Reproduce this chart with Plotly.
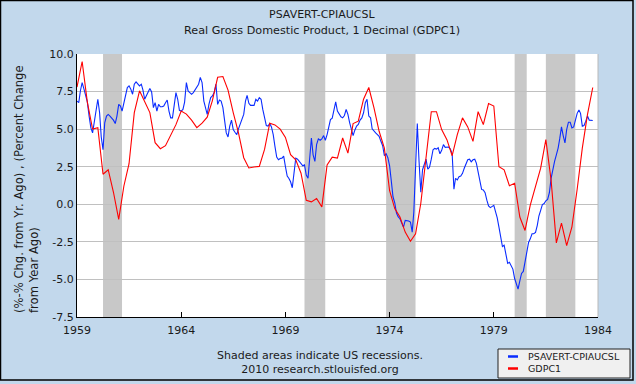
import plotly.graph_objects as go
import pandas as pd

# ---------------- data ----------------
# PSAVERT-CPIAUCSL, monthly, Jan 1959 .. Oct 1983
psavert_cpi = [
    6.87, 6.76, 7.54, 8.1, 7.7, 7.21, 6.81, 5.87, 5.08, 4.75, 5.53, 6.54,
    6.99, 6.09, 4.48, 3.63, 5.42, 5.87, 5.98, 5.87, 5.75, 5.6, 5.37, 5.87,
    6.65, 6.54, 6.2, 6.81, 7.21, 7.77, 7.88, 7.66, 7.32, 7.99, 8.15, 8.04,
    7.88, 7.99, 7.61, 6.99, 7.21, 7.48, 7.7, 7.48, 6.43, 6.76, 6.2, 6.65,
    6.49, 6.49, 6.54, 6.76, 6.94, 6.2, 5.75, 5.75, 6.76, 7.43, 6.99, 6.25,
    6.2, 6.31, 6.8, 8.1, 7.54, 7.43, 7.32, 7.43, 7.61, 7.77, 7.99, 8.44,
    8.1, 6.87, 6.43, 5.98, 6.65, 7.1, 7.21, 7.43, 7.99, 6.65, 6.94, 6.87,
    6.43, 5.42, 4.75, 4.48, 5.2, 5.6, 4.97, 4.79, 4.64, 5.02, 5.31, 5.64,
    5.98, 6.87, 7.25, 6.72, 6.58, 6.58, 6.58, 6.99, 6.87, 7.1, 6.99, 6.31,
    5.87, 5.24, 5.2, 5.37, 5.15, 4.64, 3.85, 3.14, 2.96, 3.05, 3.07, 3.2,
    2.5, 1.88, 1.73, 1.5, 1.1, 2.24, 3.07, 3.0, 2.85, 2.69, 2.56, 2.62,
    1.95, 1.73, 3.18, 4.41, 3.29, 2.85, 3.97, 4.35, 4.26, 4.35, 4.57, 4.26,
    4.64, 5.15, 5.64, 5.73, 6.2, 6.81, 6.2, 5.98, 5.82, 5.75, 5.91, 6.31,
    5.98, 5.42, 4.97, 4.57, 4.93, 5.2, 5.31, 5.6, 5.75, 6.09, 6.76, 6.99,
    5.87, 5.75, 5.02, 4.86, 4.75, 4.64, 4.52, 4.19, 3.9, 3.23, 3.36, 3.1,
    2.55, 1.5, 0.5, 0.1, -0.58, -0.84, -0.96, -1.25, -1.52, -1.07, -1.07, -1.11,
    -1.18, -1.85, -0.51, 2.29, 5.38, 2.85, 0.8, 2.3, 2.74, 3.0, 2.33, 2.47,
    3.0, 3.63, 3.72, 3.67, 3.76, 3.36, 3.59, 3.97, 3.79, 3.81, 3.81, 3.67,
    3.36, 1.0, 1.73, 1.62, 1.84, 1.88, 2.06, 2.4, 2.74, 2.96, 3.0, 2.82,
    2.96, 3.0, 2.74, 2.18, 1.62, 0.99, 0.95, 0.77, 0.27, -0.11, -0.22, -0.17,
    -0.07, -0.51, -0.89, -1.52, -2.19, -2.81, -2.72, -3.42, -3.93, -3.86, -4.07, -4.31,
    -4.94, -5.32, -5.65, -5.1, -4.6, -4.47, -3.8, -3.08, -2.54, -2.3, -1.96, -1.96,
    -1.87, -1.4, -0.78, -0.4, -0.02, 0.05, 0.23, 0.32, 0.77, 1.73, 2.4, 2.85,
    3.29, 3.74, 4.35, 5.15, 4.57, 4.08, 4.97, 5.46, 5.46, 5.08, 5.15, 5.6,
    6.05, 6.27, 6.05, 5.2, 5.24, 5.53, 5.87, 5.6, 5.58, 5.58,
]

# GDPC1, percent change from year ago, quarterly, 1959Q1 .. 1983Q4
gdpc1 = [
    7.8, 9.5, 6.8, 5.0,
    5.1, 2.0, 2.3, 0.8,
    -1.0, 1.2, 2.7, 6.1,
    7.55, 6.8, 6.1, 4.1,
    3.7, 3.9, 4.55, 5.3,
    6.2, 6.0, 5.6, 5.1,
    5.4, 5.8, 6.9, 8.45,
    8.5, 7.6, 6.1, 4.75,
    3.1, 2.42, 2.48, 2.52,
    3.65, 5.4, 5.28, 5.0,
    4.45, 3.3, 2.96, 2.07,
    0.27, 0.16, 0.39, -0.17,
    2.62, 3.14, 3.07, 4.41,
    3.4, 5.37, 5.53, 6.99,
    7.77, 6.43, 4.86, 3.74,
    0.9, -0.29, -0.85, -1.85,
    -2.46, -1.96, 0.05, 3.2,
    6.16, 6.16, 4.97, 4.3,
    3.23, 4.64, 5.75, 5.15,
    4.19, 6.16, 5.3, 6.7,
    6.54, 2.5, 2.29, 1.24,
    1.4, -0.85, -1.74, -0.06,
    1.28, 2.4, 4.3, 1.6,
    -2.57, -1.25, -2.75, -1.5,
    1.0, 3.74, 5.98, 7.77,
]

series_names = ["PSAVERT-CPIAUCSL", "GDPC1"]
series_colors = ["#0a2cff", "#ff0000"]

recessions = [
    ("1960-04-01", "1961-02-28"),
    ("1969-12-01", "1970-11-30"),
    ("1973-11-01", "1975-03-31"),
    ("1980-01-01", "1980-07-31"),
    ("1981-07-01", "1982-11-30"),
]

x_tick_vals = ["1959-01-01", "1964-01-01", "1969-01-01", "1974-01-01", "1979-01-01", "1984-01-01"]
x_tick_text = ["1959", "1964", "1969", "1974", "1979", "1984"]
y_tick_vals = [-7.5, -5.0, -2.5, 0.0, 2.5, 5.0, 7.5, 10.0]
y_tick_text = ["-7.5", "-5.0", "-2.5", "0.0", "2.5", "5.0", "7.5", "10.0"]

# ---------------- layout geometry ----------------
W, H = 636, 384
L, R, T, B = 77, 38, 54, 67
PW, PH = W - L - R, H - T - B


def px(xp):
    return (xp - L) / PW


def py(yp):
    return (H - B - yp) / PH


FONT = "DejaVu Sans"
TXT = "#1a1a1a"

monthly_dates = pd.date_range("1959-01-01", periods=len(psavert_cpi), freq="MS")
quarterly_dates = pd.date_range("1959-01-01", periods=len(gdpc1), freq="QS")

fig = go.Figure()
fig.add_trace(go.Scatter(x=monthly_dates, y=psavert_cpi, mode="lines",
                         name=series_names[0], showlegend=False,
                         line=dict(color=series_colors[0], width=1.1)))
fig.add_trace(go.Scatter(x=quarterly_dates, y=gdpc1, mode="lines",
                         name=series_names[1], showlegend=False,
                         line=dict(color=series_colors[1], width=1.1)))

shapes = []
for s, e in recessions:
    shapes.append(dict(type="rect", xref="x", yref="paper", x0=s, x1=e, y0=0, y1=1,
                       fillcolor="#c8c8c8", line=dict(width=0), layer="between"))
# right border of plot area
shapes.append(dict(type="line", xref="paper", yref="paper", x0=1, x1=1, y0=0, y1=1,
                   line=dict(color="#b8b8b8", width=1)))
# outer frame
shapes.append(dict(type="rect", xref="paper", yref="paper",
                   x0=px(0.5), x1=px(633), y0=py(380), y1=py(0.5),
                   line=dict(color="#000000", width=1.5), fillcolor="rgba(0,0,0,0)"))
# legend box and samples
shapes.append(dict(type="rect", xref="paper", yref="paper",
                   x0=px(498), x1=px(630), y0=py(378), y1=py(349),
                   line=dict(color="#222222", width=1), fillcolor="#f0f0f0"))
legend_rows = [356.5, 368.5]
for name, col, yr in zip(series_names, series_colors, legend_rows):
    shapes.append(dict(type="line", xref="paper", yref="paper",
                       x0=px(508), x1=px(518), y0=py(yr), y1=py(yr),
                       line=dict(color=col, width=2.5)))

annotations = [
    dict(text="PSAVERT-CPIAUCSL", xref="paper", yref="paper", x=px(322), y=py(14),
         xanchor="center", yanchor="middle", showarrow=False,
         font=dict(family=FONT, size=11, color=TXT)),
    dict(text="Real Gross Domestic Product, 1 Decimal (GDPC1)", xref="paper", yref="paper",
         x=px(322), y=py(30), xanchor="center", yanchor="middle", showarrow=False,
         font=dict(family=FONT, size=11.2, color=TXT)),
    dict(text="(%-% Chg. from Yr. Ago) , (Percent Change<br>from Year Ago)",
         xref="paper", yref="paper", x=px(26), y=py(189), xanchor="center", yanchor="middle",
         textangle=-90, align="left", showarrow=False,
         font=dict(family=FONT, size=11.6, color=TXT)),
    dict(text="Shaded areas indicate US recessions.<br>2010 research.stlouisfed.org",
         xref="paper", yref="paper", x=px(320), y=py(362), xanchor="center", yanchor="middle",
         align="center", showarrow=False,
         font=dict(family=FONT, size=11, color=TXT)),
]
for name, yr in zip(series_names, legend_rows):
    annotations.append(dict(text=name, xref="paper", yref="paper", x=px(526), y=py(yr),
                            xanchor="left", yanchor="middle", showarrow=False,
                            font=dict(family=FONT, size=9.5, color=TXT)))

fig.update_layout(
    width=W, height=H,
    margin=dict(l=L, r=R, t=T, b=B, autoexpand=False),
    paper_bgcolor="#c2d8ec",
    plot_bgcolor="#ffffff",
    font=dict(family=FONT, size=11, color=TXT),
    showlegend=False,
    hovermode=False,
    xaxis=dict(type="date", range=["1959-01-01", "1984-01-01"],
               tickvals=x_tick_vals, ticktext=x_tick_text,
               ticks="inside", ticklen=5, tickcolor="#000000",
               ticklabelstandoff=3,
               showline=True, linecolor="#000000", linewidth=1,
               showgrid=False, zeroline=False,
               tickfont=dict(family=FONT, size=11, color=TXT)),
    yaxis=dict(range=[-7.5, 10], tickvals=y_tick_vals, ticktext=y_tick_text,
               showgrid=True, gridcolor="#c0c0c0", gridwidth=1,
               zeroline=False, showline=True, linecolor="#000000", linewidth=1,
               ticks="", tickfont=dict(family=FONT, size=11, color=TXT)),
    shapes=shapes,
    annotations=annotations,
)

fig.write_html("out.html",
               config={"displayModeBar": False, "staticPlot": True},
               post_script="document.body.style.margin='0';document.body.style.padding='0';")
